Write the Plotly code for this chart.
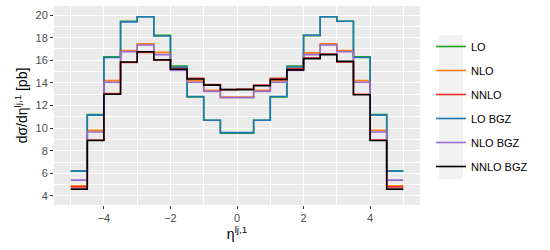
import plotly.graph_objects as go

edges = [-5.0, -4.5, -4.0, -3.5, -3.0, -2.5, -2.0, -1.5, -1.0, -0.5, 0.0,
         0.5, 1.0, 1.5, 2.0, 2.5, 3.0, 3.5, 4.0, 4.5, 5.0]

lo = [6.2, 11.2, 16.3, 19.45, 19.85, 18.2, 15.5, 12.75, 10.7, 9.55,
      9.55, 10.7, 12.75, 15.5, 18.2, 19.85, 19.45, 16.3, 11.2, 6.2]
nlo = [4.9, 9.8, 14.2, 16.85, 17.45, 16.7, 15.3, 14.2, 13.35, 12.75,
       12.75, 13.35, 14.2, 15.3, 16.65, 17.45, 16.85, 14.2, 9.8, 4.9]
nnlo = [4.8, 8.95, 13.05, 15.8, 16.7, 16.0, 15.3, 14.4, 13.85, 13.4,
        13.45, 13.8, 14.4, 15.25, 16.2, 16.55, 15.85, 13.0, 8.95, 4.8]
lo_bgz = [6.2, 11.15, 16.25, 19.4, 19.85, 18.15, 15.4, 12.8, 10.7, 9.6,
          9.6, 10.7, 12.8, 15.4, 18.2, 19.85, 19.45, 16.25, 11.15, 6.2]
nlo_bgz = [5.4, 9.65, 14.05, 16.75, 17.35, 16.5, 15.1, 14.05, 13.25, 12.7,
           12.7, 13.25, 14.05, 15.1, 16.5, 17.35, 16.75, 14.05, 9.65, 5.4]
nnlo_bgz = [4.6, 8.9, 13.0, 15.85, 16.75, 16.05, 15.2, 14.35, 13.8, 13.4,
            13.4, 13.75, 14.3, 15.15, 16.15, 16.5, 15.9, 12.95, 8.9, 4.6]

series = [
    ("LO", lo, "#1fa01f"),
    ("NLO", nlo, "#ff7f0e"),
    ("NNLO", nnlo, "#e8302a"),
    ("LO BGZ", lo_bgz, "#1f77b4"),
    ("NLO BGZ", nlo_bgz, "#9a6ad0"),
    ("NNLO BGZ", nnlo_bgz, "#000000"),
]

x_ticks = [-4, -2, 0, 2, 4]
y_ticks = [4, 6, 8, 10, 12, 14, 16, 18, 20]

FONT = "Liberation Sans, Arial, sans-serif"

fig = go.Figure()
for i, (name, vals, col) in enumerate(series):
    fig.add_trace(go.Scatter(
        x=edges, y=vals + [vals[-1]], mode="lines", name=name,
        line=dict(color=col, width=1.6, shape="hv"),
        legendgroup=name,
    ))

axis_common = dict(
    showline=False, zeroline=False, gridcolor="white", gridwidth=1.1,
    ticks="outside", ticklen=3, tickcolor="#333333", tickwidth=1,
    tickfont=dict(family=FONT, size=11, color="#4d4d4d"),
    automargin=False,
)

fig.update_xaxes(
    range=[-5.5, 5.5], tickvals=x_ticks,
    ticktext=["\u22124", "\u22122", "0", "2", "4"],
    minor=dict(tickvals=[-5, -3, -1, 1, 3, 5], showgrid=True, gridcolor="white", gridwidth=0.5, ticks=""),
    title=dict(text="\u03b7<sup>lj,1</sup>", font=dict(family=FONT, size=14, color="black"), standoff=4),
    **axis_common,
)
fig.update_yaxes(
    range=[3.2, 20.8], tickvals=y_ticks,
    minor=dict(tickvals=[5, 7, 9, 11, 13, 15, 17, 19], showgrid=True, gridcolor="white", gridwidth=0.5, ticks=""),
    title=dict(text="d\u03c3/d\u03b7<sup>lj,1</sup> [pb]", font=dict(family=FONT, size=14, color="black"), standoff=4),
    **axis_common,
)

fig.add_shape(type="rect", xref="paper", yref="paper",
              x0=(439 - 54) / 366, x1=(463 - 54) / 366,
              y0=(205 - 179) / 199, y1=(205 - 35) / 199,
              fillcolor="#f2f2f2", line=dict(width=0), layer="below")

fig.update_layout(
    width=550, height=250,
    margin=dict(l=54, r=130, t=6, b=45),
    plot_bgcolor="#ebebeb", paper_bgcolor="white",
    showlegend=True,
    legend=dict(
        x=(431 - 54) / 366, xanchor="left", y=(205 - 32) / 199, yanchor="top",
        bgcolor="rgba(0,0,0,0)", traceorder="grouped", tracegroupgap=5,
        font=dict(family=FONT, size=11, color="black"),
        itemwidth=30,
    ),
)

fig.write_html("out.html", config={"displayModeBar": False},
               post_script="document.body.style.margin='0';document.body.style.overflow='hidden';")
